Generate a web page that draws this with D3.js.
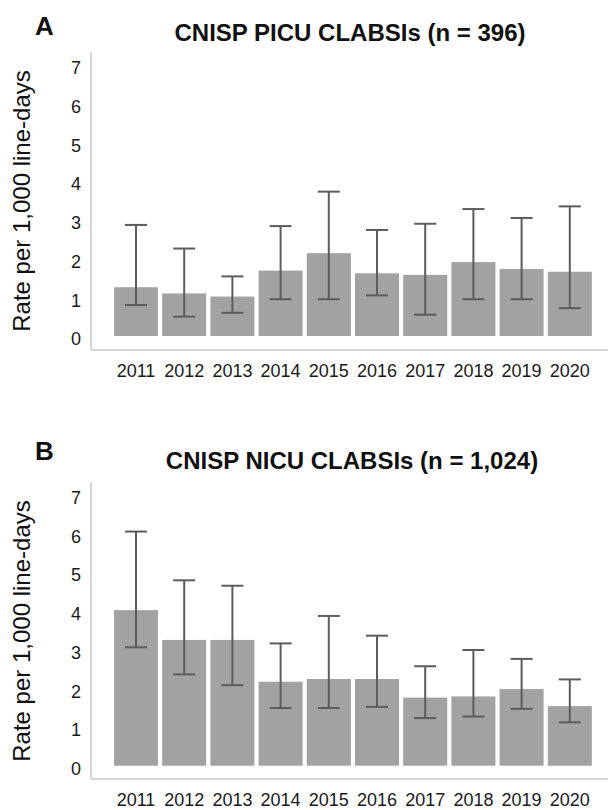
<!DOCTYPE html>
<html><head><meta charset="utf-8">
<script src="https://cdn.jsdelivr.net/npm/d3@7"></script>
<style>
html,body{margin:0;padding:0;background:#fff;}
text{font-family:"Liberation Sans",Arial,sans-serif;}
</style></head>
<body>
<svg id="chart" width="608" height="810"></svg>
<script>
const years = ["2011","2012","2013","2014","2015","2016","2017","2018","2019","2020"];
const yTicks = [0,1,2,3,4,5,6,7];
const picuRate = [1.26,1.10,1.02,1.69,2.14,1.62,1.58,1.91,1.73,1.66];
const picuLow  = [0.80,0.50,0.60,0.95,0.95,1.05,0.55,0.95,0.95,0.72];
const picuHigh = [2.87,2.26,1.54,2.84,3.73,2.74,2.90,3.28,3.05,3.35];
const nicuRate = [4.02,3.25,3.25,2.17,2.24,2.24,1.76,1.79,1.98,1.54];
const nicuLow  = [3.06,2.36,2.08,1.49,1.49,1.52,1.23,1.27,1.47,1.12];
const nicuHigh = [6.05,4.79,4.65,3.16,3.87,3.36,2.57,2.99,2.76,2.23];
const titles = ["CNISP PICU CLABSIs (n = 396)","CNISP NICU CLABSIs (n = 1,024)"];
const letters = ["A","B"];
const yLabel = "Rate per 1,000 line-days";

const svg = d3.select("#chart");
const panels = [
  {rate:picuRate, lo:picuLow, hi:picuHigh, y0:336, axisTop:52, base:350, titleY:41, letterY:35, titleX:350, ytY:201},
  {rate:nicuRate, lo:nicuLow, hi:nicuHigh, y0:765.7, axisTop:482, base:779, titleY:469, letterY:460, titleX:352, ytY:631}
];
const x = d3.scaleBand().domain(years).range([111.9,593.9]).paddingInner(0.087).paddingOuter(0.0435);

panels.forEach((p,i)=>{
  const g = svg.append("g");
  const y = d3.scaleLinear().domain([0,7]).range([p.y0, p.y0 - 7*38.7]);
  g.append("text").attr("x",35).attr("y",p.letterY).attr("font-size",26).attr("font-weight","bold").attr("fill","#111").text(letters[i]);
  g.append("text").attr("x",p.titleX).attr("y",p.titleY).attr("text-anchor","middle").attr("font-size",24).attr("font-weight","bold").attr("fill","#111").text(titles[i]);
  g.append("text").attr("transform",`translate(30,${p.ytY}) rotate(-90)`).attr("text-anchor","middle").attr("font-size",24).attr("fill","#111").text(yLabel);
  g.append("line").attr("x1",91).attr("x2",91).attr("y1",p.axisTop).attr("y2",p.base).attr("stroke","#c8c8c8").attr("stroke-width",1.5);
  g.append("line").attr("x1",91).attr("x2",608).attr("y1",p.base).attr("y2",p.base).attr("stroke","#c8c8c8").attr("stroke-width",1.5);
  const ya = g.append("g").attr("transform","translate(91,3)").call(d3.axisLeft(y).tickValues(yTicks).tickSize(0).tickPadding(10).tickFormat(d3.format("d")));
  ya.select(".domain").remove();
  ya.selectAll("text").attr("font-size",18).attr("font-family","Liberation Sans, Arial, sans-serif").attr("fill","#1a1a1a");
  const xa = g.append("g").attr("transform",`translate(0,${p.base})`).call(d3.axisBottom(x).tickSize(0).tickPadding(14));
  xa.select(".domain").remove();
  xa.selectAll("text").attr("font-size",18).attr("font-family","Liberation Sans, Arial, sans-serif").attr("fill","#1a1a1a");
  g.selectAll("rect.bar").data(years).enter().append("rect").attr("class","bar")
    .attr("x",d=>x(d)).attr("width",x.bandwidth())
    .attr("y",(d,j)=>y(p.rate[j])).attr("height",(d,j)=>y(0)-y(p.rate[j]))
    .attr("fill","#a2a2a2");
  const eb = g.selectAll("g.err").data(years).enter().append("g").attr("class","err")
    .attr("stroke","#5c5c5c").attr("stroke-width",2);
  const cx = d=>x(d)+x.bandwidth()/2;
  eb.append("line").attr("x1",cx).attr("x2",cx).attr("y1",(d,j)=>y(p.lo[j])).attr("y2",(d,j)=>y(p.hi[j]));
  eb.append("line").attr("x1",d=>cx(d)-11).attr("x2",d=>cx(d)+11).attr("y1",(d,j)=>y(p.lo[j])).attr("y2",(d,j)=>y(p.lo[j]));
  eb.append("line").attr("x1",d=>cx(d)-11).attr("x2",d=>cx(d)+11).attr("y1",(d,j)=>y(p.hi[j])).attr("y2",(d,j)=>y(p.hi[j]));
});
</script>
</body></html>
